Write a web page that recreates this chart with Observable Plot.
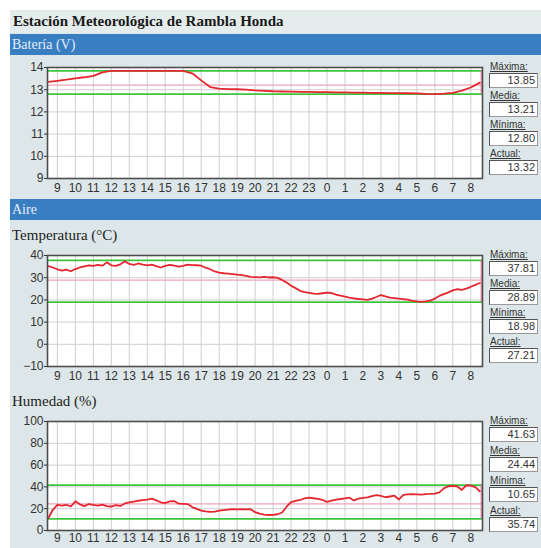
<!DOCTYPE html>
<html><head><meta charset="utf-8">
<script src="https://cdn.jsdelivr.net/npm/d3@7"></script>
<script src="https://cdn.jsdelivr.net/npm/@observablehq/plot@0.6"></script>
<style>
html,body{margin:0;padding:0}
body{background:#fff;width:541px;height:548px;overflow:hidden;position:relative;font-family:"Liberation Sans",Arial,sans-serif}
#panel{position:absolute;left:10px;top:10px;width:531px;height:538px;background:#dde7e9}
#titlebar{position:absolute;left:10px;top:10px;width:531px;height:23px;background:#e5ecec;font-family:"Liberation Serif",serif;font-weight:bold;font-size:15px;line-height:22px;color:#1a1a1a;padding-left:3px;box-sizing:border-box}
.bar{position:absolute;left:10px;width:531px;height:21px;background:#3a7ec2;color:#e4edf8;font-family:"Liberation Serif",serif;font-size:14px;line-height:21px;padding-left:2px;box-sizing:border-box}
.sub{position:absolute;left:12px;font-family:"Liberation Serif",serif;font-size:15px;color:#222}
.lab{position:absolute;left:490px;font-size:10px;line-height:11px;color:#333;text-decoration:underline}
.box{position:absolute;left:489px;width:49px;height:15px;background:#fff;border:1px solid #555;border-right-color:#999;border-bottom-color:#999;box-sizing:border-box;text-align:right;font-size:11px;line-height:13px;padding-right:2px;color:#333}
svg{position:absolute;left:0}
</style>
</head><body>
<div id="panel"></div>
<div id="titlebar">Estación Meteorológica de Rambla Honda</div>
<div class="bar" style="top:34px">Batería (V)</div>
<div class="bar" style="top:199px">Aire</div>
<div class="sub" style="top:227px">Temperatura (°C)</div>
<div class="sub" style="top:393px">Humedad (%)</div>
<script>
// x positions: hours (day 1 from 9 to 23, day 2 as 24..32)
const hourTicks = [9,10,11,12,13,14,15,16,17,18,19,20,21,22,23,24,25,26,27,28,29,30,31,32];
const hourLabels = ["9","10","11","12","13","14","15","16","17","18","19","20","21","22","23","0","1","2","3","4","5","6","7","8"];
const xDomain = [8.45, 32.65];

// Battery (V), every 30 min starting 8:30
const batteryStart = 8.5, batteryStepH = 0.5;
const batteryValues = [13.35,13.40,13.45,13.51,13.56,13.62,13.78,13.85,
  13.85,13.85,13.85,13.85,13.85,13.85,13.85,13.85,
  13.74,13.42,13.12,13.05,13.03,13.02,13.00,12.97,12.95,12.93,12.92,12.91,12.90,12.90,12.89,12.89,
  12.88,12.88,12.87,12.87,12.86,12.86,12.85,12.85,12.84,12.83,12.81,12.80,12.82,12.86,12.96,13.10,13.32];
const batteryTicks = [9,10,11,12,13,14];
const batteryStats = ["13.85","13.21","12.80","13.32"];

// Temperature (°C), every 15 min starting 8:30
const tempStart = 8.5, tempStepH = 0.25;
const tempValues = [35.2,34.6,33.8,33.2,33.6,32.9,33.9,34.6,35.1,35.6,35.3,35.8,35.4,36.9,35.6,35.3,
  36.0,37.4,36.2,35.8,36.4,35.9,35.5,35.9,35.2,34.6,35.3,35.8,35.4,35.0,35.3,35.9,
  35.7,35.6,35.4,34.5,33.8,32.8,32.3,32.0,31.8,31.6,31.4,31.2,30.8,30.4,30.3,30.1,
  30.4,30.1,30.2,29.9,29.0,27.8,26.4,25.3,24.1,23.5,23.2,22.8,22.7,23.0,23.3,23.1,
  22.4,21.9,21.5,21.0,20.7,20.4,20.2,20.0,20.6,21.3,22.2,21.6,21.0,20.8,20.6,20.3,
  20.1,19.6,19.3,19.1,19.3,19.7,20.6,21.8,22.6,23.4,24.3,24.8,24.5,25.1,25.9,26.8,27.6];
const tempTicks = [-10,0,10,20,30,40];
const tempStats = ["37.81","28.89","18.98","27.21"];

// Humidity (%), every 15 min starting 8:30
const humStart = 8.5, humStepH = 0.25;
const humValues = [11.5,19.0,23.5,22.8,23.6,22.0,26.8,24.0,22.4,24.3,23.5,22.9,23.8,22.4,22.0,23.2,
  22.5,24.8,25.9,26.4,27.3,27.8,28.3,29.2,27.6,25.9,25.2,26.8,27.0,24.6,24.4,24.2,
  21.5,19.8,18.2,17.5,17.1,17.4,18.2,18.7,19.2,19.5,19.3,19.6,19.4,19.5,16.8,15.4,
  14.6,14.2,14.4,14.9,16.5,21.8,26.0,27.2,28.0,29.4,30.2,29.6,29.1,28.0,26.2,27.5,
  28.4,28.9,29.5,30.1,27.6,29.2,30.0,30.3,31.5,32.4,31.8,30.5,31.2,31.9,28.5,32.6,
  33.1,33.4,33.2,33.0,33.4,33.6,33.9,35.0,38.6,40.6,40.9,40.4,37.2,41.5,41.2,39.8,36.0];
const humTicks = [0,20,40,60,80,100];
const humStats = ["41.63","24.44","10.65","35.74"];

const statNames = ["Máxima:","Media:","Mínima:","Actual:"];

function makePanel({frameTop, frameH, start, step, values, domainY, ticks, stats, spacing, xPad}) {
  const data = values.map((v, i) => ({t: start + i * step, v}));
  const max = +stats[0], mean = +stats[1], min = +stats[2];
  const lastT = data[data.length - 1].t + 0.08;
  const chart = Plot.plot({
    width: 485, height: frameH + 28,
    marginLeft: 47, marginRight: 3, marginTop: 10, marginBottom: 18,
    style: {background: "transparent", fontFamily: "Liberation Sans, Arial, sans-serif", fontSize: "12px", color: "#333", overflow: "visible"},
    x: {domain: xDomain},
    y: {domain: domainY},
    marks: [
      Plot.frame({fill: "white", stroke: null}),
      Plot.ruleX(hourTicks, {stroke: "#cfcfcf", strokeWidth: 1}),
      Plot.ruleY(ticks, {stroke: "#cfcfcf", strokeWidth: 1}),
      Plot.ruleY([max, min], {stroke: "#3cc43c", strokeWidth: 1.6}),
      Plot.ruleY([mean], {stroke: "#f0a4b6", strokeWidth: 1.2}),
      Plot.ruleX([lastT], {y1: min, y2: max, stroke: "#f27a9a", strokeWidth: 1.2}),
      Plot.line(data, {x: "t", y: "v", stroke: "#e3262f", strokeWidth: 1.8}),
      Plot.frame({stroke: "#4d4d4d", strokeWidth: 1.6}),
      Plot.axisX(hourTicks, {tickSize: 0, tickPadding: xPad, tickFormat: (d, i) => hourLabels[i], label: null, fontSize: 12}),
      Plot.axisY(ticks, {tickSize: 3, tickPadding: 1, label: null, fontSize: 12})
    ]
  });
  chart.style.top = (frameTop - 10) + "px";
  document.body.appendChild(chart);
  stats.forEach((s, i) => {
    const lab = document.createElement("div");
    lab.className = "lab";
    lab.textContent = statNames[i];
    lab.style.top = (frameTop - 6 + i * spacing) + "px";
    document.body.appendChild(lab);
    const box = document.createElement("div");
    box.className = "box";
    box.textContent = s;
    box.style.top = (frameTop + 6 + i * spacing) + "px";
    document.body.appendChild(box);
  });
}

makePanel({frameTop: 67, frameH: 111, start: batteryStart, step: batteryStepH, values: batteryValues, domainY: [9, 14], ticks: batteryTicks, stats: batteryStats, spacing: 29, xPad: 5});
makePanel({frameTop: 255, frameH: 111, start: tempStart, step: tempStepH, values: tempValues, domainY: [-10, 40], ticks: tempTicks, stats: tempStats, spacing: 29, xPad: 5});
makePanel({frameTop: 421, frameH: 109, start: humStart, step: humStepH, values: humValues, domainY: [0, 100], ticks: humTicks, stats: humStats, spacing: 30, xPad: 3});
</script>
</body></html>
